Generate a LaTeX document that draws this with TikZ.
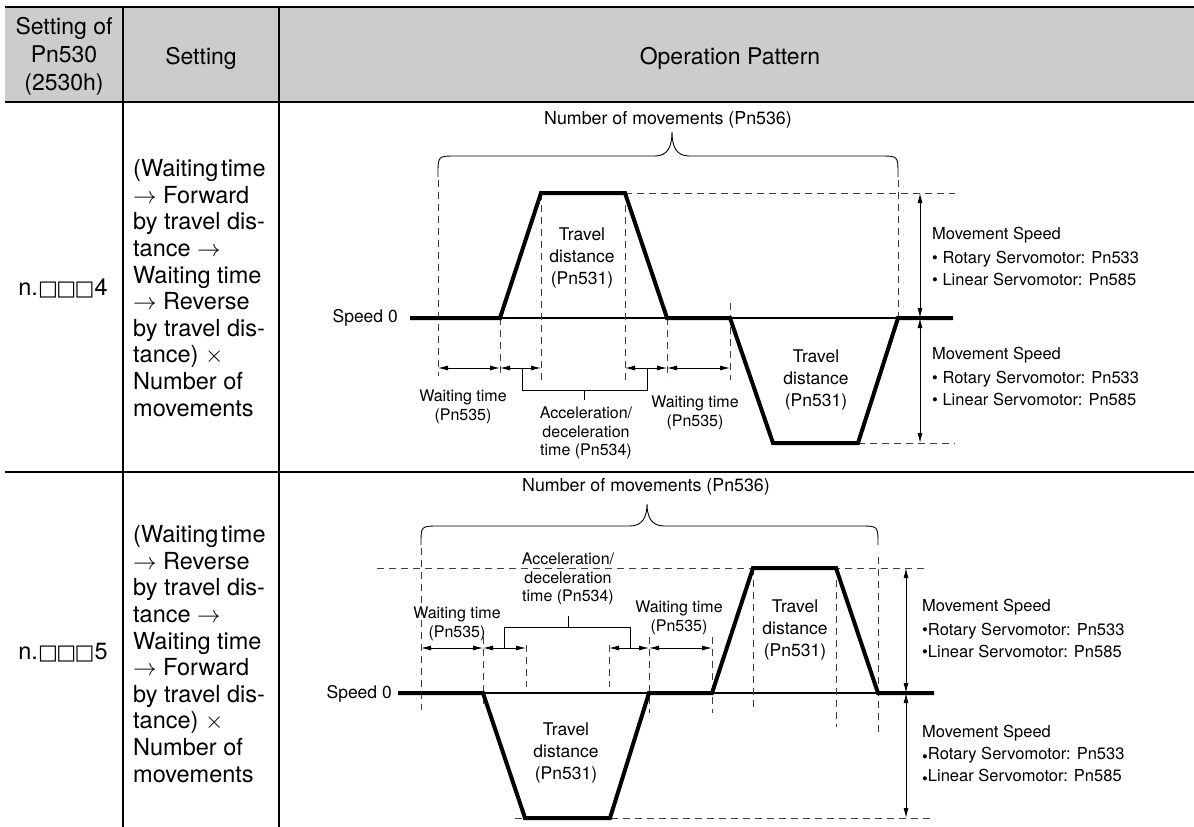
\documentclass[tikz,border=0pt]{standalone}
\usepackage{fix-cm}
\usepackage{fontspec}
\setmainfont{TeX Gyre Heros}
\newfontfamily\symfont{DejaVu Sans}
\newcommand\sqs{{\symfont\bfseries\fontsize{21}{24}\selectfont □\kern-1.5pt□\kern-1.5pt□}}
\newcommand\rarr{$\rightarrow$}
\newcommand\tms{$\times$}
\usetikzlibrary{arrows.meta}
\definecolor{hdrgray}{HTML}{CCCCCC}
\begin{document}
\begin{tikzpicture}[x=1pt,y=-1pt,
  tbl/.style={line width=1.4pt},
  wave/.style={line width=4pt},
  zero/.style={line width=1.3pt},
  dsh/.style={line width=0.9pt,dash pattern=on 7pt off 5pt,black!75},
  dim/.style={line width=0.9pt,{Latex[length=10pt,width=5pt]}-{Latex[length=10pt,width=5pt]}},
  brk/.style={line width=0.9pt},
  lbl/.style={inner sep=0pt,align=center,font=\fontsize{16}{18.5}\selectfont},
  trv/.style={inner sep=0pt,align=center,font=\fontsize{17.5}{22}\selectfont},
  spd/.style={inner sep=0pt,align=left,anchor=west,font=\fontsize{16.5}{22}\selectfont},
  hdr/.style={inner sep=0pt,align=center,font=\fontsize{23}{28}\selectfont},
  rowtxt/.style={inner sep=0pt,align=left,anchor=west,font=\fontsize{23.5}{26.6}\selectfont},
  code/.style={inner sep=0pt,font=\fontsize{23.5}{26.6}\selectfont},
  num/.style={inner sep=0pt,font=\fontsize{17.8}{20}\selectfont},
  zlab/.style={inner sep=0pt,anchor=east,font=\fontsize{17.5}{20}\selectfont},
]
\useasboundingbox (0,0) rectangle (1194,827);
% ---------------- table ----------------
\fill[hdrgray] (5,7) rectangle (1194,102);
\draw[tbl] (5,7) -- (1194,7);
\draw[tbl] (5,102) -- (1194,102);
\draw[tbl] (5,472) -- (1194,472);
\draw[tbl] (123,7) -- (123,827);
\draw[tbl] (279,7) -- (279,827);
\node[hdr] (h1) at (64,56) {Setting of\\Pn530\\(2530h)};
\node[hdr,anchor=base] (h2) at (201,64) {Setting};
\node[hdr,anchor=base] (h3) at (730,64) {Operation Pattern};
% ---------------- row 1 ----------------
\node[code] (c1) at (63,288) {n.\sqs4};
\node[rowtxt] (s1) at (133,288) {(Waiting\hspace{0.12em}time\\\rarr\ Forward\\by travel dis-\\tance \rarr\\Waiting time\\\rarr\ Reverse\\by travel dis-\\tance) \tms\\Number of\\movements};
\node[zlab] (z1) at (398,318) {Speed 0};
\draw[zero] (410,318) -- (953,318);
% dashed guides
\draw[dsh] (625,193) -- (955,193);
\draw[dsh] (858,443) -- (955,443);
\draw[dsh] (438,180) -- (438,376);
\draw[dsh] (500,318) -- (500,376);
\draw[dsh] (541,193) -- (541,380);
\draw[dsh] (625,193) -- (625,380);
\draw[dsh] (667,318) -- (667,378);
\draw[dsh] (730,303) -- (730,380);
\draw[dsh] (898,180) -- (898,318);
% waveform
\draw[wave] (410,318) -- (500,318) -- (541,193) -- (625,193) -- (667,318) -- (730,318) -- (773,443) -- (858,443) -- (898,318) -- (953,318);
% brace
\draw[brk] (438,177) -- (438,174) .. controls (438,156) .. (456,156) -- (655,156) .. controls (668,156) and (672,146) .. (672,132) .. controls (672,146) and (676,156) .. (689,156) -- (880,156) .. controls (898,156) .. (898,174) -- (898,177);
\node[num] (n1) at (668,120) {Number of movements (Pn536)};
% time dimensions
\draw[dim] (438,368) -- (500,368);
\draw[dim] (500,368) -- (541,368);
\draw[dim] (625,368) -- (667,368);
\draw[dim] (667,368) -- (730,368);
\draw[brk] (522,368) -- (522,390) -- (647,390) -- (647,368);
\draw[brk] (584,390) -- (584,400);
\node[lbl] (w1a) at (463,407) {Waiting time\\(Pn535)};
\node[lbl] (a1) at (586,433) {Acceleration/\\deceleration\\time (Pn534)};
\node[lbl] (w1b) at (695,413) {Waiting time\\(Pn535)};
\node[trv] (t1a) at (582,258) {Travel\\distance\\(Pn531)};
\node[trv] (t1b) at (816,380) {Travel\\distance\\(Pn531)};
% speed dimensions
\draw[dim] (920,193) -- (920,318);
\draw[dim] (920,318) -- (920,443);
\node[spd] (m1a) at (932,256) {Movement Speed\\[2pt]\textbullet\ Rotary Servomotor: Pn533\\\textbullet\ Linear Servomotor: Pn585};
\node[spd] (m1b) at (932,376) {Movement Speed\\[2pt]\textbullet\ Rotary Servomotor: Pn533\\\textbullet\ Linear Servomotor: Pn585};
% ---------------- row 2 ----------------
\node[code] (c2) at (63,653) {n.\sqs5};
\node[rowtxt] (s2) at (133,654) {(Waiting\hspace{0.12em}time\\\rarr\ Reverse\\by travel dis-\\tance \rarr\\Waiting time\\\rarr\ Forward\\by travel dis-\\tance) \tms\\Number of\\movements};
\node[zlab] (z2) at (392,694) {Speed 0};
\draw[zero] (398,693) -- (934,693);
% dashed guides
\draw[dsh] (377,568) -- (928,568);
\draw[dsh] (515,818) -- (933,818);
\draw[dsh] (421,548) -- (421,710);
\draw[dsh] (483,637) -- (483,708);
\draw[dsh] (526,645) -- (526,687);
\draw[dsh] (609,645) -- (609,687);
\draw[dsh] (649,637) -- (649,713);
\draw[dsh] (712,637) -- (712,713);
\draw[dsh] (753,568) -- (753,708);
\draw[dsh] (836,568) -- (836,727);
\draw[dsh] (878,557) -- (878,732);
% waveform
\draw[wave] (398,693) -- (483,693) -- (525,818) -- (610,818) -- (649,693) -- (712,693) -- (753,568) -- (836,568) -- (878,693) -- (934,693);
% brace
\draw[brk] (421,545) -- (421,544) .. controls (421,526) .. (439,526) -- (630,526) .. controls (643,526) and (647,516) .. (647,504) .. controls (647,516) and (651,526) .. (664,526) -- (860,526) .. controls (878,526) .. (878,544) -- (878,545);
\node[num] (n2) at (646,487) {Number of movements (Pn536)};
% time dimensions
\draw[dim] (421,648) -- (483,648);
\draw[dim] (483,648) -- (526,648);
\draw[dim] (609,648) -- (649,648);
\draw[dim] (649,648) -- (712,648);
\draw[brk] (504,648) -- (504,627) -- (630,627) -- (630,648);
\draw[brk] (568,627) -- (568,616);
\node[lbl] (a2) at (568,579) {Acceleration/\\deceleration\\time (Pn534)};
\node[lbl] (w2a) at (457,624) {Waiting time\\(Pn535)};
\node[lbl] (w2b) at (679,618) {Waiting time\\(Pn535)};
\node[trv] (t2a) at (566,753) {Travel\\distance\\(Pn531)};
\node[trv] (t2b) at (795,630) {Travel\\distance\\(Pn531)};
% speed dimensions
\draw[dim] (906,568) -- (906,693);
\draw[dim] (906,693) -- (906,818);
\node[spd] (m2a) at (922,628) {Movement Speed\\[2pt]\textbullet Rotary Servomotor: Pn533\\\textbullet Linear Servomotor: Pn585};
\node[spd] (m2b) at (922,755) {Movement Speed\\\raisebox{-0.2em}{\textbullet}Rotary Servomotor: Pn533\\\raisebox{-0.2em}{\textbullet}Linear Servomotor: Pn585};
\end{tikzpicture}
\end{document}
